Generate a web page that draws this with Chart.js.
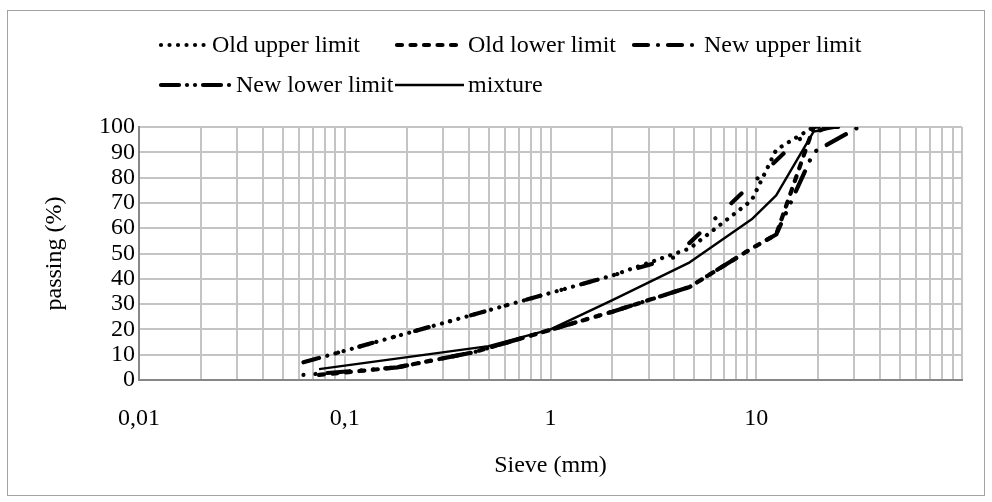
<!DOCTYPE html>
<html>
<head>
<meta charset="utf-8">
<script src="https://cdn.jsdelivr.net/npm/chart.js@4/dist/chart.umd.min.js"></script>
<style>
  html, body { margin: 0; padding: 0; background: #ffffff; }
  #wrap { position: relative; width: 992px; height: 502px; }
  #wrap canvas { position: absolute; left: 0; top: 0; }
  #frame { position: absolute; left: 7px; top: 10px; width: 978px; height: 486px;
           border: 1.5px solid #a3a3a3; box-sizing: border-box; pointer-events: none; }
</style>
</head>
<body>
<div id="wrap">
  <canvas id="chart" width="992" height="502"></canvas>
  <div id="frame"></div>
</div>
<script>
// Grading curves: sieve size (mm) against percentage passing
const seriesNames = ['Old upper limit', 'Old lower limit', 'New upper limit', 'New lower limit', 'mixture'];

const oldUpperSieve   = [0.075, 2, 4.75, 9.5, 12.5, 19, 25];
const oldUpperPassing = [8.7, 41.3, 52, 71, 91, 100, 100];

const oldLowerSieve   = [0.075, 0.18, 0.425, 2, 4.75, 9.5, 12.5, 19, 25];
const oldLowerPassing = [2, 5, 11, 27, 36.8, 52, 57.5, 100, 100];

const newUpperSieve   = [0.063, 2, 4, 16, 22.4];
const newUpperPassing = [7, 41.3, 48.5, 95, 100];

const newLowerSieve   = [0.063, 0.18, 0.425, 2, 4.75, 9.5, 12.5, 19, 31.5];
const newLowerPassing = [2, 5, 11, 27, 36.8, 52, 57.5, 90, 100];

const mixtureSieve    = [0.075, 0.5, 1, 2, 4.75, 9.5, 12.5, 19, 25];
const mixturePassing  = [4.3, 13.4, 20, 31.6, 46.5, 63.5, 73, 98.2, 100];

const xDecades   = [0.01, 0.1, 1, 10, 100];
const xTickText  = ['0,01', '0,1', '1', '10', ''];
const yTicks     = [0, 10, 20, 30, 40, 50, 60, 70, 80, 90, 100];

const SERIF = '"Liberation Serif", "Times New Roman", serif';
Chart.defaults.font.family = SERIF;
Chart.defaults.color = '#000000';

const pts = (xs, ys) => xs.map((x, i) => ({ x: x, y: ys[i] }));

// Line styles shared by the plot and the legend
const styles = [
  { dash: [0.01, 8.5], width: 4.2, offset: 0 },                     // dotted
  { dash: [5, 8.5], width: 4.2, offset: 0 },                        // short dash
  { dash: [14, 22, 0.01, 22], width: 4.2, offset: 0 },              // dash-dot
  { dash: [22, 12, 0.01, 12, 0.01, 12], width: 4.2, offset: 34.01 },// long dash-dot-dot
  { dash: [], width: 2.4, offset: 0 }                               // solid
];

const seriesData = [
  pts(oldUpperSieve, oldUpperPassing),
  pts(oldLowerSieve, oldLowerPassing),
  pts(newUpperSieve, newUpperPassing),
  pts(newLowerSieve, newLowerPassing),
  pts(mixtureSieve, mixturePassing)
];

const datasets = seriesNames.map((name, i) => ({
  label: name,
  data: seriesData[i],
  showLine: true,
  borderColor: '#000000',
  backgroundColor: '#000000',
  borderWidth: styles[i].width,
  borderDash: styles[i].dash,
  borderDashOffset: styles[i].offset,
  borderCapStyle: styles[i].dash.length ? 'round' : 'butt',
  borderJoinStyle: 'round',
  pointRadius: 0,
  tension: 0,
  fill: false
}));

// Full set of log-scale gridline positions: 1..9 × each decade
const logTicks = [];
for (let e = -2; e <= 1; e++) {
  for (let m = 1; m <= 9; m++) logTicks.push(Number((m * Math.pow(10, e)).toPrecision(4)));
}
logTicks.push(100);

function decadeLabel(v) {
  for (let i = 0; i < xDecades.length; i++) {
    if (Math.abs(v - xDecades[i]) < xDecades[i] * 1e-6) return xTickText[i];
  }
  return '';
}

// Legend drawn in two rows with line samples
const legendLayout = [
  { row: 0, x0: 161, x1: 207, tx: 212 },
  { row: 0, x0: 397, x1: 464, tx: 468 },
  { row: 0, x0: 634, x1: 695, tx: 704 },
  { row: 1, x0: 161, x1: 231, tx: 236 },
  { row: 1, x0: 395, x1: 464, tx: 468 }
];
const legendRowsY = [45, 85];

const legendPlugin = {
  id: 'twoRowLegend',
  afterDraw(chart) {
    const ctx = chart.ctx;
    ctx.save();
    seriesNames.forEach((name, i) => {
      const L = legendLayout[i], s = styles[i];
      const y = legendRowsY[L.row];
      ctx.beginPath();
      ctx.strokeStyle = '#000000';
      ctx.lineWidth = s.width;
      ctx.lineCap = s.dash.length ? 'round' : 'butt';
      ctx.setLineDash(i === 3 ? [18, 8, 0.01, 8, 0.01, 8] : (i === 2 ? [14, 10, 0.01, 10] : s.dash));
      ctx.lineDashOffset = 0;
      ctx.moveTo(L.x0, y);
      ctx.lineTo(L.x1, y);
      ctx.stroke();
      ctx.setLineDash([]);
      ctx.fillStyle = '#000000';
      ctx.font = '24px ' + SERIF;
      ctx.textAlign = 'left';
      ctx.textBaseline = 'middle';
      ctx.fillText(name, L.tx, y + 1);
    });
    ctx.restore();
  }
};

new Chart(document.getElementById('chart'), {
  type: 'scatter',
  data: { datasets: datasets },
  options: {
    responsive: false,
    animation: false,
    devicePixelRatio: 1,
    layout: { padding: { left: 0, right: 30, top: 127, bottom: 0 } },
    plugins: { legend: { display: false }, tooltip: { enabled: false } },
    scales: {
      x: {
        type: 'logarithmic',
        position: 'bottom',
        min: 0.01,
        max: 100,
        afterBuildTicks(scale) {
          scale.ticks = logTicks.map(v => ({ value: v }));
        },
        afterFit(scale) { scale.height = 122; },
        ticks: {
          autoSkip: false,
          maxRotation: 0,
          minRotation: 0,
          padding: 24,
          font: { size: 24 },
          callback: (v) => decadeLabel(v)
        },
        grid: { color: '#c4c4c4', lineWidth: 2, drawTicks: false },
        border: { color: '#878787', width: 2 },
        title: {
          display: true,
          text: 'Sieve (mm)',
          font: { size: 24 },
          padding: { top: 0, bottom: 22 }
        }
      },
      y: {
        type: 'linear',
        min: 0,
        max: 100,
        afterBuildTicks(scale) {
          scale.ticks = yTicks.map(v => ({ value: v }));
        },
        afterFit(scale) { scale.width = 139; },
        ticks: { autoSkip: false, padding: 4, font: { size: 24 } },
        grid: { color: '#c4c4c4', lineWidth: 2, drawTicks: false },
        border: { color: '#878787', width: 2 },
        title: {
          display: true,
          text: 'passing (%)',
          font: { size: 24 },
          padding: { top: 40, bottom: 0 }
        }
      }
    }
  },
  plugins: [legendPlugin]
});
</script>
</body>
</html>
